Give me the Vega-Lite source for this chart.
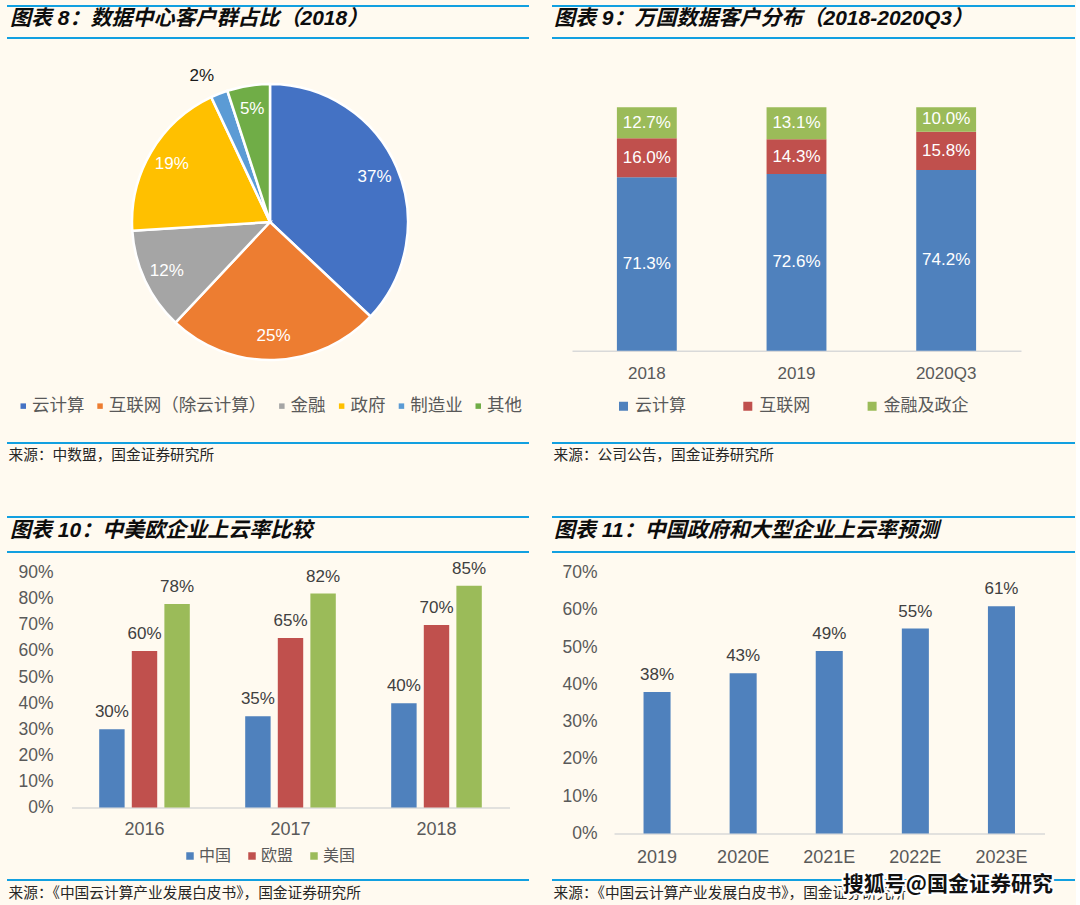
{
  "$schema": "https://vega.github.io/schema/vega-lite/v6.json",
  "background": "#FFFAF0",
  "padding": {"left": 6, "top": 5, "right": 0, "bottom": 0},
  "config": {
    "view": {"stroke": null},
    "font": "Liberation Sans, Noto Sans CJK SC",
    "axis": {"labelFont": "Liberation Sans, Noto Sans CJK SC", "labelColor": "#595959", "domainColor": "#D9D9D9"},
    "legend": {"labelFont": "Liberation Sans, Noto Sans CJK SC", "labelColor": "#595959", "padding": 0, "labelLimit": 400}
  },
  "columns": 2,
  "spacing": {"row": 0, "column": 23},
  "bounds": "flush",
  "resolve": {
    "scale": {"x": "independent", "y": "independent", "color": "independent", "theta": "independent", "xOffset": "independent"},
    "legend": {"color": "independent"}
  },
  "concat": [
    {
      "width": 522, "height": 32,
      "data": {"values": [{"title": "图表 8：数据中心客户群占比（2018）"}]},
      "layer": [
        {"mark": {"type": "rule", "color": "#12A0E0", "strokeWidth": 2},
         "encoding": {"x": {"datum": 0, "type": "quantitative", "scale": {"domain": [0, 1]}, "axis": null}, "x2": {"datum": 1}, "y": {"datum": 1, "type": "quantitative", "scale": {"domain": [0, 1]}, "axis": null}}},
        {"mark": {"type": "rule", "color": "#12A0E0", "strokeWidth": 2},
         "encoding": {"x": {"datum": 0, "type": "quantitative"}, "x2": {"datum": 1}, "y": {"datum": 0, "type": "quantitative"}}},
        {"mark": {"type": "text", "align": "left", "baseline": "middle", "dx": 3, "dy": 13, "fontSize": 21, "fontWeight": "bold", "fontStyle": "italic", "color": "#0d0d0d"},
         "encoding": {"x": {"datum": 0, "type": "quantitative"}, "y": {"datum": 1, "type": "quantitative"}, "text": {"field": "title"}}}
      ]
    },
    {
      "width": 523, "height": 32,
      "data": {"values": [{"title": "图表 9：万国数据客户分布（2018-2020Q3）"}]},
      "layer": [
        {"mark": {"type": "rule", "color": "#12A0E0", "strokeWidth": 2},
         "encoding": {"x": {"datum": 0, "type": "quantitative", "scale": {"domain": [0, 1]}, "axis": null}, "x2": {"datum": 1}, "y": {"datum": 1, "type": "quantitative", "scale": {"domain": [0, 1]}, "axis": null}}},
        {"mark": {"type": "rule", "color": "#12A0E0", "strokeWidth": 2},
         "encoding": {"x": {"datum": 0, "type": "quantitative"}, "x2": {"datum": 1}, "y": {"datum": 0, "type": "quantitative"}}},
        {"mark": {"type": "text", "align": "left", "baseline": "middle", "dx": 2, "dy": 13, "fontSize": 21, "fontWeight": "bold", "fontStyle": "italic", "color": "#0d0d0d"},
         "encoding": {"x": {"datum": 0, "type": "quantitative"}, "y": {"datum": 1, "type": "quantitative"}, "text": {"field": "title"}}}
      ]
    },
    {
      "width": 522, "height": 368,
      "data": {"values": [
        {"segment": "云计算", "share": 0.37, "idx": 1},
        {"segment": "互联网（除云计算）", "share": 0.25, "idx": 2},
        {"segment": "金融", "share": 0.12, "idx": 3},
        {"segment": "政府", "share": 0.19, "idx": 4},
        {"segment": "制造业", "share": 0.02, "idx": 5},
        {"segment": "其他", "share": 0.05, "idx": 6}
      ]},
      "encoding": {
        "theta": {"field": "share", "type": "quantitative", "stack": true},
        "order": {"field": "idx", "type": "quantitative", "sort": "ascending"}
      },
      "layer": [
        {"mark": {"type": "arc", "outerRadius": 138, "stroke": "#FFFFFF", "strokeWidth": 2.5, "xOffset": 2},
         "encoding": {"color": {"field": "segment", "type": "nominal",
           "sort": ["云计算", "互联网（除云计算）", "金融", "政府", "制造业", "其他"],
           "scale": {"domain": ["云计算", "互联网（除云计算）", "金融", "政府", "制造业", "其他"], "range": ["#4472C4", "#ED7D31", "#A5A5A5", "#FFC000", "#5B9BD5", "#70AD47"]},
           "legend": {"title": null, "orient": "none", "legendX": 7.5, "legendY": 359, "direction": "horizontal", "symbolType": "square", "symbolSize": 30, "symbolStrokeWidth": 0, "labelFontSize": 17.5, "labelOffset": 0, "columnPadding": 6.8}}}},
        {"mark": {"type": "text", "fontSize": 17, "xOffset": 2, "radius": {"expr": "datum.share < 0.03 ? 161 : 114"}, "thetaOffset": {"expr": "datum.share < 0.03 ? -0.06 : 0"}},
         "encoding": {
           "detail": {"field": "segment"},
           "text": {"field": "share", "type": "quantitative", "format": ".0%"},
           "color": {"condition": {"test": "datum.share < 0.03", "value": "#1a1a1a"}, "value": "#FFFFFF"}}}
      ]
    },
    {
      "width": 523, "height": 405,
      "data": {"values": [
        {"period": "2018", "series": "云计算", "share": 0.713},
        {"period": "2018", "series": "互联网", "share": 0.160},
        {"period": "2018", "series": "金融及政企", "share": 0.127},
        {"period": "2019", "series": "云计算", "share": 0.726},
        {"period": "2019", "series": "互联网", "share": 0.143},
        {"period": "2019", "series": "金融及政企", "share": 0.131},
        {"period": "2020Q3", "series": "云计算", "share": 0.742},
        {"period": "2020Q3", "series": "互联网", "share": 0.158},
        {"period": "2020Q3", "series": "金融及政企", "share": 0.100}
      ]},
      "encoding": {
        "x": {"field": "period", "type": "nominal", "sort": ["2018", "2019", "2020Q3"],
          "scale": {"range": [20, 469], "paddingInner": 0.6, "paddingOuter": 0.3},
          "axis": {"title": null, "orient": "bottom", "offset": -92.3, "labelAngle": 0, "ticks": false, "tickSize": 0, "labelPadding": 14.7, "labelFontSize": 17, "domainWidth": 1.5}},
        "y": {"field": "share", "type": "quantitative", "stack": "zero", "scale": {"domain": [0, 1], "range": [312.7, 69.3], "nice": false, "zero": true}, "axis": null},
        "order": {"field": "series", "type": "nominal", "sort": "ascending"}
      },
      "layer": [
        {"mark": {"type": "bar"},
         "encoding": {"color": {"field": "series", "type": "nominal",
           "scale": {"domain": ["云计算", "互联网", "金融及政企"], "range": ["#4F81BD", "#C0504D", "#9BBB59"]},
           "legend": {"title": null, "orient": "none", "legendX": 63, "legendY": 359.5, "direction": "horizontal", "symbolType": "square", "symbolSize": 81, "symbolStrokeWidth": 0, "labelFontSize": 17, "labelOffset": 3, "columnPadding": 53.3}}}},
        {"mark": {"type": "text", "fontSize": 17, "baseline": "middle", "color": "#FFFFFF", "yOffset": {"expr": "datum.share * 121.7"}},
         "encoding": {
           "detail": {"field": "series"},
           "text": {"field": "share", "type": "quantitative", "format": ".1%"}}}
      ]
    },
    {
      "width": 522, "height": 74,
      "data": {"values": [{"source": "来源：中数盟，国金证券研究所"}]},
      "layer": [
        {"mark": {"type": "rule", "color": "#12A0E0", "strokeWidth": 2},
         "encoding": {"x": {"datum": 0, "type": "quantitative", "scale": {"domain": [0, 1]}, "axis": null}, "x2": {"datum": 1}, "y": {"datum": 1, "type": "quantitative", "scale": {"domain": [0, 1]}, "axis": null}}},
        {"mark": {"type": "text", "align": "left", "baseline": "middle", "dx": 1.5, "dy": 13, "fontSize": 14.7, "color": "#262626"},
         "encoding": {"x": {"datum": 0, "type": "quantitative"}, "y": {"datum": 1, "type": "quantitative"}, "text": {"field": "source"}}}
      ]
    },
    {
      "width": 523, "height": 74,
      "data": {"values": [{"source": "来源：公司公告，国金证券研究所"}]},
      "layer": [
        {"mark": {"type": "rule", "color": "#12A0E0", "strokeWidth": 2},
         "encoding": {"x": {"datum": 0, "type": "quantitative", "scale": {"domain": [0, 1]}, "axis": null}, "x2": {"datum": 1}, "y": {"datum": 1, "type": "quantitative", "scale": {"domain": [0, 1]}, "axis": null}}},
        {"mark": {"type": "text", "align": "left", "baseline": "middle", "dx": 1.5, "dy": 13, "fontSize": 14.7, "color": "#262626"},
         "encoding": {"x": {"datum": 0, "type": "quantitative"}, "y": {"datum": 1, "type": "quantitative"}, "text": {"field": "source"}}}
      ]
    },
    {
      "width": 522, "height": 35,
      "data": {"values": [{"title": "图表 10：中美欧企业上云率比较"}]},
      "layer": [
        {"mark": {"type": "rule", "color": "#12A0E0", "strokeWidth": 2},
         "encoding": {"x": {"datum": 0, "type": "quantitative", "scale": {"domain": [0, 1]}, "axis": null}, "x2": {"datum": 1}, "y": {"datum": 1, "type": "quantitative", "scale": {"domain": [0, 1]}, "axis": null}}},
        {"mark": {"type": "rule", "color": "#12A0E0", "strokeWidth": 2},
         "encoding": {"x": {"datum": 0, "type": "quantitative"}, "x2": {"datum": 1}, "y": {"datum": 0, "type": "quantitative"}}},
        {"mark": {"type": "text", "align": "left", "baseline": "middle", "dx": 3, "dy": 14, "fontSize": 21, "fontWeight": "bold", "fontStyle": "italic", "color": "#0d0d0d"},
         "encoding": {"x": {"datum": 0, "type": "quantitative"}, "y": {"datum": 1, "type": "quantitative"}, "text": {"field": "title"}}}
      ]
    },
    {
      "width": 523, "height": 35,
      "data": {"values": [{"title": "图表 11：中国政府和大型企业上云率预测"}]},
      "layer": [
        {"mark": {"type": "rule", "color": "#12A0E0", "strokeWidth": 2},
         "encoding": {"x": {"datum": 0, "type": "quantitative", "scale": {"domain": [0, 1]}, "axis": null}, "x2": {"datum": 1}, "y": {"datum": 1, "type": "quantitative", "scale": {"domain": [0, 1]}, "axis": null}}},
        {"mark": {"type": "rule", "color": "#12A0E0", "strokeWidth": 2},
         "encoding": {"x": {"datum": 0, "type": "quantitative"}, "x2": {"datum": 1}, "y": {"datum": 0, "type": "quantitative"}}},
        {"mark": {"type": "text", "align": "left", "baseline": "middle", "dx": 2, "dy": 14, "fontSize": 21, "fontWeight": "bold", "fontStyle": "italic", "color": "#0d0d0d"},
         "encoding": {"x": {"datum": 0, "type": "quantitative"}, "y": {"datum": 1, "type": "quantitative"}, "text": {"field": "title"}}}
      ]
    },
    {
      "width": 522, "height": 328,
      "data": {"values": [
        {"year": "2016", "region": "中国", "rate": 0.30},
        {"year": "2016", "region": "欧盟", "rate": 0.60},
        {"year": "2016", "region": "美国", "rate": 0.78},
        {"year": "2017", "region": "中国", "rate": 0.35},
        {"year": "2017", "region": "欧盟", "rate": 0.65},
        {"year": "2017", "region": "美国", "rate": 0.82},
        {"year": "2018", "region": "中国", "rate": 0.40},
        {"year": "2018", "region": "欧盟", "rate": 0.70},
        {"year": "2018", "region": "美国", "rate": 0.85}
      ]},
      "encoding": {
        "x": {"field": "year", "type": "nominal",
          "scale": {"range": [64.5, 502.5], "paddingInner": 0, "paddingOuter": 0},
          "axis": {"title": null, "orient": "bottom", "offset": -72.5, "labelAngle": 0, "ticks": false, "tickSize": 0, "labelPadding": 12.7, "labelFontSize": 18, "domainWidth": 1.5}},
        "xOffset": {"field": "region", "type": "nominal", "sort": ["中国", "欧盟", "美国"], "scale": {"paddingInner": 0.22, "paddingOuter": 0.85}},
        "y": {"field": "rate", "type": "quantitative", "stack": null,
          "scale": {"domain": [0, 0.9], "range": [255.5, 20.7], "nice": false},
          "axis": {"title": null, "orient": "left", "offset": -46, "values": [0, 0.1, 0.2, 0.3, 0.4, 0.5, 0.6, 0.7, 0.8, 0.9], "format": ".0%", "domain": false, "ticks": false, "tickSize": 0, "grid": false, "labelPadding": 0, "labelFontSize": 17.5}}
      },
      "layer": [
        {"mark": {"type": "bar"},
         "encoding": {"color": {"field": "region", "type": "nominal",
           "scale": {"domain": ["中国", "欧盟", "美国"], "range": ["#4F81BD", "#C0504D", "#9BBB59"]},
           "legend": {"title": null, "orient": "none", "legendX": 175, "legendY": 296, "direction": "horizontal", "symbolType": "square", "symbolSize": 56, "symbolStrokeWidth": 0, "labelFontSize": 16, "labelOffset": 1, "columnPadding": 12}}}},
        {"mark": {"type": "text", "fontSize": 17, "baseline": "alphabetic", "dy": -12, "color": "#404040"},
         "encoding": {"text": {"field": "rate", "type": "quantitative", "format": ".0%"}}}
      ]
    },
    {
      "width": 523, "height": 328,
      "data": {"values": [
        {"year": "2019", "rate": 0.38},
        {"year": "2020E", "rate": 0.43},
        {"year": "2021E", "rate": 0.49},
        {"year": "2022E", "rate": 0.55},
        {"year": "2023E", "rate": 0.61}
      ]},
      "encoding": {
        "x": {"field": "year", "type": "nominal",
          "scale": {"range": [62, 492.5], "paddingInner": 0.686, "paddingOuter": 0.343},
          "axis": {"title": null, "orient": "bottom", "offset": -46.5, "labelAngle": 0, "ticks": false, "tickSize": 0, "labelPadding": 14.7, "labelFontSize": 18, "domainWidth": 1.5}},
        "y": {"field": "rate", "type": "quantitative",
          "scale": {"domain": [0, 0.7], "range": [281.5, 20.7], "nice": false},
          "axis": {"title": null, "orient": "left", "offset": -45, "values": [0, 0.1, 0.2, 0.3, 0.4, 0.5, 0.6, 0.7], "format": ".0%", "domain": false, "ticks": false, "tickSize": 0, "grid": false, "labelPadding": 0, "labelFontSize": 17.5}}
      },
      "layer": [
        {"mark": {"type": "bar", "color": "#4F81BD"}},
        {"mark": {"type": "text", "fontSize": 17, "baseline": "alphabetic", "dy": -12, "color": "#404040"},
         "encoding": {"text": {"field": "rate", "type": "quantitative", "format": ".0%"}}}
      ]
    },
    {
      "width": 522, "height": 25,
      "data": {"values": [{"source": "来源：《中国云计算产业发展白皮书》，国金证券研究所"}]},
      "layer": [
        {"mark": {"type": "rule", "color": "#12A0E0", "strokeWidth": 2},
         "encoding": {"x": {"datum": 0, "type": "quantitative", "scale": {"domain": [0, 1]}, "axis": null}, "x2": {"datum": 1}, "y": {"datum": 1, "type": "quantitative", "scale": {"domain": [0, 1]}, "axis": null}}},
        {"mark": {"type": "text", "align": "left", "baseline": "middle", "dx": 1.5, "dy": 14, "fontSize": 14.7, "color": "#262626"},
         "encoding": {"x": {"datum": 0, "type": "quantitative"}, "y": {"datum": 1, "type": "quantitative"}, "text": {"field": "source"}}}
      ]
    },
    {
      "width": 523, "height": 25,
      "data": {"values": [{"source": "来源：《中国云计算产业发展白皮书》，国金证券研究所", "mark": "搜狐号@国金证券研究"}]},
      "layer": [
        {"mark": {"type": "rule", "color": "#12A0E0", "strokeWidth": 2},
         "encoding": {"x": {"datum": 0, "type": "quantitative", "scale": {"domain": [0, 1]}, "axis": null}, "x2": {"datum": 1}, "y": {"datum": 1, "type": "quantitative", "scale": {"domain": [0, 1]}, "axis": null}}},
        {"mark": {"type": "text", "align": "left", "baseline": "middle", "dx": 1.5, "dy": 14, "fontSize": 14.7, "color": "#262626"},
         "encoding": {"x": {"datum": 0, "type": "quantitative"}, "y": {"datum": 1, "type": "quantitative"}, "text": {"field": "source"}}},
        {"mark": {"type": "text", "align": "left", "baseline": "middle", "dy": 5, "fontSize": 21, "fontWeight": "bold", "color": "#FFFFFF", "stroke": "#FFFFFF", "strokeWidth": 4, "font": "Noto Sans CJK SC"},
         "encoding": {"x": {"datum": 0.556, "type": "quantitative"}, "y": {"datum": 1, "type": "quantitative"}, "text": {"field": "mark"}}},
        {"mark": {"type": "text", "align": "left", "baseline": "middle", "dy": 5, "fontSize": 21, "fontWeight": "bold", "color": "#111111", "font": "Noto Sans CJK SC"},
         "encoding": {"x": {"datum": 0.556, "type": "quantitative"}, "y": {"datum": 1, "type": "quantitative"}, "text": {"field": "mark"}}}
      ]
    }
  ]
}
